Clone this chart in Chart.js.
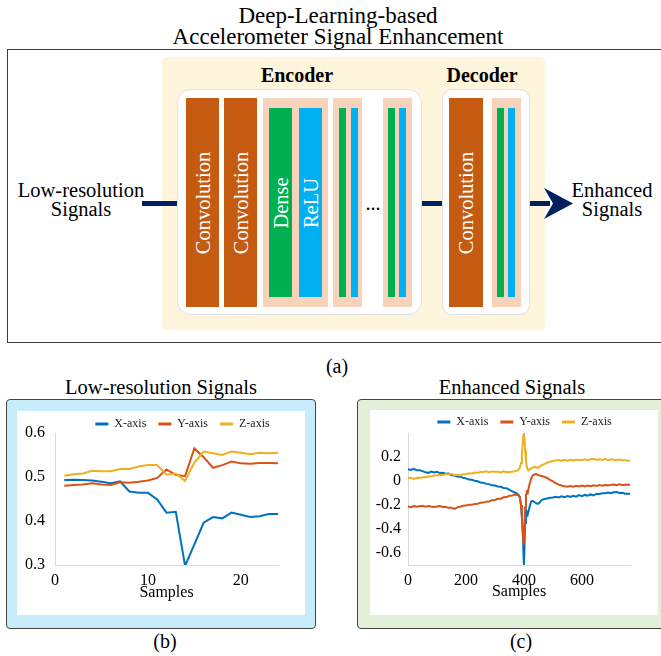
<!DOCTYPE html>
<html><head><meta charset="utf-8">
<script src="https://cdn.jsdelivr.net/npm/chart.js@4.4.1/dist/chart.umd.min.js"></script>
<style>
html,body{margin:0;padding:0;background:#fff;}
body{width:661px;height:656px;position:relative;overflow:hidden;font-family:"Liberation Serif","Times New Roman",serif;color:#000;}
.t{position:absolute;white-space:nowrap;transform:translateX(-50%);}
.r{position:absolute;box-sizing:border-box;}
.rot{position:absolute;color:#fff;font-size:20.5px;line-height:1;white-space:nowrap;transform:translate(-50%,-50%) rotate(-90deg);}
.conv{background:#C55A11;}
.peach{background:#F8D3BC;}
.grn{background:#00B050;}
.blu{background:#00B0F0;}
.navy{background:#002060;}
canvas{position:absolute;}
</style></head>
<body>
<!-- title -->
<div class="t" style="left:338px;top:3.7px;font-size:23px;line-height:23px;">Deep-Learning-based</div>
<div class="t" style="left:338px;top:24.7px;font-size:23px;line-height:23px;">Accelerometer Signal Enhancement</div>

<!-- diagram (a) -->
<div class="r" style="left:7px;top:49px;width:670px;height:294px;border:1.5px solid #3a3a3a;"></div>
<div class="r" style="left:162px;top:57px;width:383px;height:273px;background:#FFF4DC;border-radius:5px;"></div>
<div class="t" style="left:297px;top:65.3px;font-size:20px;line-height:20px;font-weight:bold;">Encoder</div>
<div class="t" style="left:482px;top:65.3px;font-size:20px;line-height:20px;font-weight:bold;">Decoder</div>
<div class="r" style="left:177px;top:89px;width:245px;height:226px;background:#fff;border:1px solid #e2e2e2;border-radius:14px;"></div>
<div class="r" style="left:442px;top:89px;width:88px;height:226px;background:#fff;border:1px solid #e2e2e2;border-radius:10px;"></div>

<div class="r conv" style="left:186px;top:98px;width:33px;height:209px;"></div>
<div class="r conv" style="left:224px;top:98px;width:33px;height:209px;"></div>
<div class="r peach" style="left:263px;top:98px;width:65px;height:209px;"></div>
<div class="r grn" style="left:269px;top:108px;width:23px;height:189px;"></div>
<div class="r blu" style="left:299px;top:108px;width:23px;height:189px;"></div>
<div class="r peach" style="left:333px;top:98px;width:29px;height:209px;"></div>
<div class="r grn" style="left:339px;top:108px;width:7px;height:189px;"></div>
<div class="r blu" style="left:351px;top:108px;width:7px;height:189px;"></div>
<div class="r peach" style="left:383px;top:98px;width:29px;height:209px;"></div>
<div class="r grn" style="left:388px;top:108px;width:7px;height:189px;"></div>
<div class="r blu" style="left:399px;top:108px;width:7px;height:189px;"></div>
<div class="r conv" style="left:449px;top:98px;width:34px;height:209px;"></div>
<div class="r peach" style="left:492px;top:98px;width:29px;height:209px;"></div>
<div class="r grn" style="left:497px;top:108px;width:7px;height:189px;"></div>
<div class="r blu" style="left:508px;top:108px;width:7px;height:189px;"></div>

<div class="rot" style="left:202.5px;top:202.5px;">Convolution</div>
<div class="rot" style="left:240.5px;top:202.5px;">Convolution</div>
<div class="rot" style="left:280.5px;top:202.5px;">Dense</div>
<div class="rot" style="left:310.5px;top:202.5px;">ReLU</div>
<div class="rot" style="left:466px;top:202.5px;">Convolution</div>
<div class="t" style="left:373px;top:193.3px;font-size:20px;line-height:20px;">...</div>

<div class="r navy" style="left:142px;top:201px;width:35px;height:5px;"></div>
<div class="r navy" style="left:422px;top:201px;width:20px;height:5px;"></div>
<div class="r navy" style="left:530px;top:201px;width:20px;height:5px;"></div>
<svg style="position:absolute;left:0;top:0;" width="661" height="656"><polygon points="573,203.5 544,188 553,203.5 544,219" fill="#002060"/></svg>

<div class="t" style="left:81px;top:179.8px;font-size:20.5px;line-height:20.5px;">Low-resolution</div>
<div class="t" style="left:81px;top:198.8px;font-size:20.5px;line-height:20.5px;">Signals</div>
<div class="t" style="left:612px;top:179.8px;font-size:20.5px;line-height:20.5px;">Enhanced</div>
<div class="t" style="left:612px;top:198.8px;font-size:20.5px;line-height:20.5px;">Signals</div>
<div class="t" style="left:337px;top:356px;font-size:20px;line-height:20px;">(a)</div>

<!-- panel (b) -->
<div class="t" style="left:161px;top:376.8px;font-size:20.5px;line-height:20.5px;">Low-resolution Signals</div>
<div class="r" style="left:6px;top:399px;width:310px;height:230px;background:#C9ECFA;border:1.5px solid #444;border-radius:4px;"></div>
<div class="r" style="left:17px;top:411px;width:288px;height:204px;background:#fff;"></div>
<canvas id="chartB" width="288" height="204" style="left:17px;top:411px;"></canvas>
<div class="t" style="left:165px;top:631px;font-size:20px;line-height:20px;">(b)</div>

<!-- panel (c) -->
<div class="t" style="left:512px;top:376.8px;font-size:20.5px;line-height:20.5px;">Enhanced Signals</div>
<div class="r" style="left:357px;top:399px;width:330px;height:230px;background:#E2F0D9;border:1.5px solid #444;border-radius:4px;"></div>
<div class="r" style="left:370px;top:410px;width:288px;height:205px;background:#fff;"></div>
<canvas id="chartC" width="288" height="205" style="left:370px;top:410px;"></canvas>
<div class="t" style="left:521px;top:631px;font-size:20px;line-height:20px;">(c)</div>

<script>
// ---------- data ----------
const seriesNames = ['X-axis', 'Y-axis', 'Z-axis'];
const seriesColors = ['#0072BD', '#D95319', '#EDB120'];

// (b) low-resolution signals
const lowResSamples = [1,2,3,4,5,6,7,8,9,10,11,12,13,14,15,16,17,18,19,20,21,22,23,24];
const lowResX = [0.493,0.494,0.493,0.492,0.489,0.486,0.490,0.467,0.464,0.464,0.449,0.419,0.421,0.298,0.347,0.396,0.409,0.406,0.419,0.414,0.409,0.411,0.416,0.416];
const lowResY = [0.480,0.482,0.483,0.486,0.483,0.482,0.488,0.487,0.489,0.492,0.498,0.517,0.505,0.502,0.565,0.545,0.521,0.527,0.535,0.531,0.530,0.532,0.532,0.531];
const lowResZ = [0.503,0.506,0.508,0.514,0.513,0.513,0.518,0.518,0.524,0.527,0.527,0.505,0.508,0.491,0.533,0.558,0.554,0.550,0.558,0.555,0.552,0.555,0.554,0.555];
const lowResXTicks = [0, 10, 20];
const lowResYTicks = [0.3, 0.4, 0.5, 0.6];

// (c) enhanced signals
const enhSamples = [0,10,20,30,40,50,60,70,80,90,100,110,120,130,140,150,160,170,180,190,200,210,220,230,240,250,260,270,280,290,300,310,320,330,340,350,360,370,376,382,386,390,393,396,398,400,402,404,407,410,413,416,420,425,430,436,442,448,454,460,470,480,490,500,510,520,530,540,550,560,570,580,590,600,610,620,630,640,650,660,670,680,690,700,710,720,730,740,750,760,766];
const enhX = [0.098,0.092,0.101,0.090,0.089,0.082,0.072,0.068,0.079,0.071,0.077,0.066,0.068,0.061,0.062,0.048,0.046,0.038,0.036,0.027,0.022,0.012,0.010,0.002,-0.002,-0.012,-0.014,-0.024,-0.026,-0.036,-0.038,-0.046,-0.048,-0.058,-0.060,-0.074,-0.086,-0.098,-0.104,-0.118,-0.135,-0.20,-0.30,-0.42,-0.58,-0.70,-0.55,-0.35,-0.24,-0.26,-0.28,-0.25,-0.21,-0.17,-0.165,-0.175,-0.185,-0.19,-0.18,-0.16,-0.15,-0.145,-0.14,-0.138,-0.132,-0.137,-0.128,-0.135,-0.126,-0.132,-0.124,-0.130,-0.118,-0.126,-0.116,-0.122,-0.112,-0.120,-0.108,-0.108,-0.102,-0.102,-0.096,-0.102,-0.094,-0.092,-0.100,-0.098,-0.106,-0.106,-0.108];
const enhY = [-0.212,-0.218,-0.208,-0.215,-0.210,-0.206,-0.214,-0.208,-0.213,-0.217,-0.212,-0.209,-0.217,-0.216,-0.222,-0.222,-0.232,-0.220,-0.214,-0.206,-0.205,-0.198,-0.198,-0.192,-0.190,-0.182,-0.180,-0.172,-0.170,-0.160,-0.158,-0.148,-0.148,-0.136,-0.134,-0.122,-0.120,-0.112,-0.116,-0.122,-0.14,-0.20,-0.30,-0.42,-0.50,-0.53,-0.40,-0.22,-0.12,-0.09,-0.10,-0.06,-0.02,0.02,0.045,0.055,0.058,0.050,0.045,0.042,0.036,0.025,0.010,-0.004,-0.018,-0.030,-0.038,-0.044,-0.048,-0.042,-0.048,-0.040,-0.046,-0.038,-0.045,-0.038,-0.044,-0.036,-0.042,-0.034,-0.040,-0.034,-0.036,-0.034,-0.030,-0.036,-0.028,-0.034,-0.032,-0.030,-0.033];
const enhZ = [0.022,0.026,0.018,0.027,0.026,0.032,0.032,0.038,0.038,0.046,0.046,0.052,0.050,0.057,0.056,0.058,0.050,0.052,0.046,0.056,0.056,0.064,0.062,0.070,0.068,0.074,0.074,0.080,0.074,0.080,0.078,0.078,0.072,0.080,0.074,0.076,0.078,0.084,0.086,0.095,0.11,0.15,0.22,0.32,0.38,0.40,0.36,0.26,0.17,0.12,0.095,0.088,0.095,0.105,0.112,0.118,0.115,0.110,0.120,0.130,0.140,0.152,0.160,0.166,0.170,0.174,0.168,0.176,0.170,0.177,0.171,0.178,0.176,0.174,0.180,0.174,0.182,0.186,0.176,0.182,0.176,0.184,0.174,0.181,0.177,0.175,0.179,0.172,0.173,0.169,0.168];
const enhXTicks = [0, 200, 400, 600];
const enhYTicks = [-0.6, -0.4, -0.2, 0, 0.2];

// ---------- charts ----------
Chart.defaults.font.family = '"Liberation Serif","Times New Roman",serif';
Chart.defaults.color = '#000';

const legendPlace = {
  id: 'legendPlace',
  beforeLayout(chart, args, o) {
    const lg = chart.legend;
    if (lg && !lg._patched) {
      const orig = lg.fit;
      lg.fit = function () { orig.call(this); this.height = o.height; };
      lg._patched = true;
    }
  },
  afterLayout(chart, args, o) {
    const lg = chart.legend;
    if (!lg) return;
    const pad = lg.options.labels.padding;
    const fs = lg.options.labels.font.size;
    lg.left = o.cx - 150; lg.right = o.cx + 150; lg.width = 300;
    lg.top = o.cy - pad - fs / 2;
  }
};

function buildChart(id, xs, ys, cfg) {
  const datasets = ys.map((arr, i) => ({
    label: seriesNames[i],
    data: xs.map((x, j) => ({ x: x, y: arr[j] })),
    borderColor: seriesColors[i],
    backgroundColor: seriesColors[i],
    borderWidth: cfg.lw,
    pointRadius: 0,
    tension: 0,
    order: 3 - i
  }));
  return new Chart(document.getElementById(id), {
    type: 'line',
    data: { datasets },
    options: {
      responsive: false, animation: false, devicePixelRatio: 1,
      layout: { padding: { left: 0, right: cfg.padRight, top: 0, bottom: 0 } },
      plugins: {
        legend: {
          display: true, position: 'top', align: 'center',
          labels: {
            font: { size: 12 }, color: '#222', boxWidth: 13, boxHeight: 3, padding: 12,
            sort: (a, b) => a.datasetIndex - b.datasetIndex,
            generateLabels: (chart) => Chart.defaults.plugins.legend.labels.generateLabels(chart).map(it => Object.assign(it, { lineWidth: 0 }))
          }
        },
        tooltip: { enabled: false },
        legendPlace: { height: cfg.top, cx: cfg.legendCx, cy: cfg.legendCy }
      },
      scales: {
        x: {
          type: 'linear', min: cfg.xmin, max: cfg.xmax,
          afterBuildTicks: s => { s.ticks = cfg.xticks.map(v => ({ value: v })); },
          afterFit: s => { s.height = cfg.xh; },
          grid: { display: true, drawOnChartArea: false, drawTicks: false },
          border: { display: true, color: '#d9d9d9', width: 1 },
          ticks: { font: { size: 16 }, color: '#000', padding: 6, maxRotation: 0, callback: v => String(v) },
          title: { display: true, text: 'Samples', font: { size: 16 }, color: '#000', padding: { top: 0, bottom: cfg.titlePad } }
        },
        y: {
          type: 'linear', min: cfg.ymin, max: cfg.ymax,
          afterBuildTicks: s => { s.ticks = cfg.yticks.map(v => ({ value: v })); },
          afterFit: s => { s.width = cfg.yw; },
          grid: { display: true, drawOnChartArea: false, drawTicks: false },
          border: { display: true, color: '#d9d9d9', width: 1 },
          ticks: { font: { size: 16 }, color: '#000', padding: cfg.ypad, callback: cfg.yfmt }
        }
      }
    },
    plugins: [legendPlace]
  });
}

buildChart('chartB', lowResSamples, [lowResX, lowResY, lowResZ], {
  lw: 2, padRight: 27, top: 22, legendCx: 165.5, legendCy: 13,
  xmin: 0, xmax: 24, xticks: lowResXTicks, xh: 50, titlePad: 12.4,
  ymin: 0.3, ymax: 0.6, yticks: lowResYTicks, yw: 38, ypad: 10,
  yfmt: v => v.toFixed(1)
});

buildChart('chartC', enhSamples, [enhX, enhY, enhZ], {
  lw: 2, padRight: 28, top: 23, legendCx: 154.5, legendCy: 12,
  xmin: 0, xmax: 766, xticks: enhXTicks, xh: 50, titlePad: 13.4,
  ymin: -0.7, ymax: 0.4, yticks: enhYTicks, yw: 38, ypad: 7,
  yfmt: v => (Math.abs(v) < 1e-9 ? '0' : v.toFixed(1))
});
</script>
</body></html>
